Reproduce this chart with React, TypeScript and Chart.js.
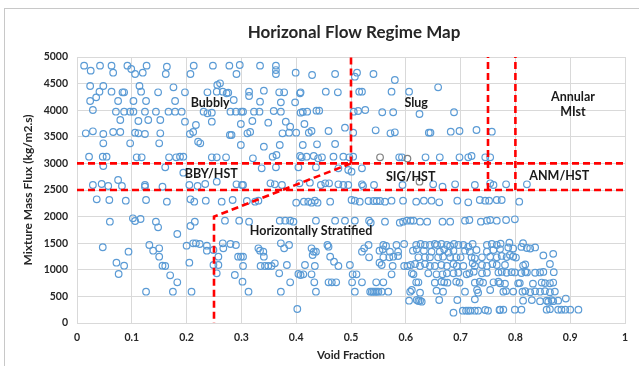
import { useEffect, useRef } from 'react';
import { Chart, registerables } from 'chart.js';

Chart.register(...registerables);

type P = [number, number];

const chartTitle = 'Horizonal Flow Regime Map';
const xAxisTitle = 'Void Fraction';
const yAxisTitle = 'Mixture Mass Flux (kg/m2.s)';
const xTickLabels = ['0', '0.1', '0.2', '0.3', '0.4', '0.5', '0.6', '0.7', '0.8', '0.9', '1'];
const yTickLabels = ['0', '500', '1000', '1500', '2000', '2500', '3000', '3500', '4000', '4500', '5000'];

const regimeNames = ['Bubbly', 'Slug', 'Annular', 'MIst', 'BBY/HST', 'SIG/HST', 'ANM/HST', 'Horizontally Stratified'];
const regimeAnchorX = [0.243, 0.619, 0.905, 0.905, 0.245, 0.609, 0.88, 0.427];
const regimeAnchorY = [4135, 4135, 4250, 3970, 2800, 2744, 2763, 1729];

const boundaryH3000: P[] = [[0, 3000], [1, 3000]];
const boundaryH2500: P[] = [[0, 2500], [1, 2500]];
const boundaryV050: P[] = [[0.5, 3000], [0.5, 5000]];
const boundaryV075: P[] = [[0.75, 2500], [0.75, 5000]];
const boundaryV080: P[] = [[0.8, 2500], [0.8, 5000]];
const boundaryStratified: P[] = [[0.5, 3000], [0.25, 2000], [0.25, 0]];

const bubblyPoints: P[] = [
  [0.013,4837],[0.025,4743],[0.042,4837],[0.063,4837],[0.066,4705],[0.092,4837],[0.099,4774],[0.106,4680],[0.120,4705],[0.127,4837],[0.164,4818],[0.162,4680],[0.213,4837],[0.207,4680],[0.248,4837],
  [0.278,4837],[0.297,4850],[0.291,4680],[0.334,4837],[0.363,4837],[0.363,4755],[0.363,4680],[0.399,4705],[0.429,4662],[0.471,4680],
  [0.024,4455],[0.048,4455],[0.041,4348],[0.063,4348],[0.083,4336],[0.086,4336],[0.114,4455],[0.117,4348],[0.148,4336],[0.176,4430],[0.197,4336],[0.238,4336],[0.035,4242],[0.024,4173],[0.075,4173],[0.103,4173],[0.126,4173],[0.179,4173],
  [0.261,4506],[0.256,4474],[0.255,4348],[0.266,4348],[0.273,4318],[0.276,4330],[0.286,4192],[0.314,4348],[0.314,4267],[0.341,4367],[0.334,4160],[0.369,4336],[0.378,4336],[0.372,4148],[0.398,4148],[0.408,4336],[0.407,4318],[0.454,4348],[0.476,4336],
  [0.029,4004],[0.071,3972],[0.086,3972],[0.097,3972],[0.103,3972],[0.124,3972],[0.144,3972],[0.167,3972],[0.179,3972],[0.191,3972],[0.231,3972],[0.238,3942],[0.246,3953],
  [0.280,3972],[0.290,3972],[0.300,3972],[0.303,3972],[0.323,3972],[0.333,3972],[0.359,3985],[0.372,3972],[0.408,3953],[0.412,3966],[0.420,3972],[0.437,3991],[0.442,3991],
  [0.079,3816],[0.112,3797],[0.130,3816],[0.152,3816],[0.197,3784],[0.217,3722],[0.246,3784],
  [0.299,3741],[0.320,3797],[0.349,3765],[0.381,3784],[0.389,3690],[0.415,3741],[0.459,3609],[0.489,3671],
  [0.016,3566],[0.029,3603],[0.048,3553],[0.066,3590],[0.079,3590],[0.106,3577],[0.112,3566],[0.124,3553],[0.152,3566],[0.206,3553],[0.212,3590],
  [0.279,3534],[0.282,3534],[0.311,3566],[0.316,3590],[0.375,3566],[0.387,3577],[0.400,3577],[0.423,3577],[0.428,3609],
  [0.048,3378],[0.097,3378],[0.150,3378],[0.221,3408],[0.225,3378],
  [0.299,3346],[0.341,3314],[0.370,3346],[0.412,3346],[0.438,3359],[0.471,3365],
  [0.022,3126],[0.047,3126],[0.054,3126],[0.109,3115],[0.118,3115],[0.168,3115],[0.181,3115],[0.188,3126],[0.194,3126],[0.246,3115],[0.255,3115],[0.272,3115],[0.321,3096],[0.357,3126],[0.364,3158],[0.407,3139],[0.410,3115],[0.419,3126],[0.432,3139],[0.440,3096],[0.447,3115],[0.468,3126],[0.486,3126],[0.497,3115],
];

const slugPoints: P[] = [
  [0.504,3577],[0.504,3126],
  [0.511,4705],[0.507,4630],[0.541,4680],[0.580,4568],[0.515,4348],[0.520,4348],[0.574,4348],[0.606,4348],[0.659,4430],
  [0.505,3972],[0.513,3985],[0.526,4004],[0.557,3961],[0.577,3961],[0.625,3929],[0.688,3961],
  [0.545,3622],[0.572,3566],[0.580,3585],[0.642,3577],[0.645,3577],[0.682,3596],[0.698,3609],[0.729,3628],[0.757,3596],
  [0.588,3115],[0.593,3115],[0.636,3115],[0.662,3115],[0.698,3115],[0.714,3115],[0.720,3139],[0.745,3115],[0.754,3115],
];

const grayPoints: P[] = [[0.553,3115],[0.603,3090],[0.625,2656]];

const transitionPoints: P[] = [
  [0.048,2951],[0.161,2927],[0.194,2825],[0.337,2908],[0.363,2927],[0.404,2927],[0.436,2927],[0.477,2908],[0.495,2876],[0.520,2908],[0.501,2844],
  [0.029,2594],[0.045,2613],[0.057,2575],[0.075,2688],[0.082,2575],[0.124,2594],[0.124,2562],[0.156,2562],[0.205,2594],[0.220,2575],[0.234,2613],[0.255,2656],
  [0.291,2607],[0.301,2594],[0.303,2594],[0.353,2626],[0.361,2607],[0.374,2594],[0.406,2626],[0.425,2637],[0.445,2594],[0.453,2626],[0.460,2626],[0.477,2607],[0.486,2594],[0.495,2594],
  [0.520,2607],[0.522,2575],[0.542,2594],[0.594,2594],[0.650,2607],[0.667,2562],[0.690,2607],[0.726,2594],[0.754,2626],[0.760,2594],[0.783,2607],[0.821,2607],
];

const stratifiedUpperPoints: P[] = [
  [0.036,2325],[0.059,2312],[0.089,2299],[0.126,2312],[0.164,2280],[0.207,2325],[0.214,2280],[0.235,2299],
  [0.264,2280],[0.284,2312],[0.310,2293],[0.325,2280],[0.331,2299],[0.400,2261],[0.414,2280],[0.422,2280],[0.428,2261],[0.434,2299],[0.439,2261],[0.462,2280],[0.501,2312],[0.507,2299],
  [0.516,2280],[0.532,2293],[0.541,2293],[0.547,2293],[0.553,2293],[0.562,2280],[0.574,2299],[0.595,2299],[0.619,2280],[0.633,2299],[0.647,2299],[0.661,2269],[0.694,2299],[0.714,2269],[0.735,2312],[0.745,2299],[0.752,2299],[0.766,2312],[0.775,2312],[0.807,2280],
  [0.060,1904],[0.102,1968],[0.106,1917],[0.116,1955],[0.144,1904],[0.148,1799],[0.183,1673],[0.207,1823],[0.215,1904],
  [0.270,1923],[0.296,1923],[0.314,1904],[0.370,1923],[0.380,1923],[0.389,1923],[0.395,1904],[0.436,1923],[0.471,1923],[0.489,1923],
  [0.507,1923],[0.533,1923],[0.536,1885],[0.562,1904],[0.589,1885],[0.595,1904],[0.602,1923],[0.609,1923],[0.614,1923],[0.626,1904],[0.639,1904],[0.667,1904],[0.681,1904],[0.708,1923],[0.716,1936],[0.737,1904],[0.748,1923],[0.754,1936],[0.766,1923],[0.783,1936],[0.799,1949],
];

const stratifiedLowerPoints: P[] = [
  [0.047,1424],[0.094,1340],[0.132,1466],[0.139,1359],[0.150,1404],[0.150,1246],[0.200,1453],[0.212,1498],[0.217,1498],[0.224,1485],[0.237,1453],[0.237,1359],[0.249,1372],[0.072,1133],[0.086,1077],[0.076,921],[0.156,1077],[0.161,1071],[0.205,1133],[0.249,1090],[0.170,897],[0.183,765],[0.255,934],[0.126,588],[0.175,588],[0.209,588],
  [0.266,1498],[0.267,1404],[0.280,1485],[0.290,1466],[0.258,1246],[0.294,1246],[0.299,1246],[0.303,1246],[0.331,1404],[0.334,1359],[0.340,1340],[0.341,1246],[0.372,1498],[0.378,1404],[0.387,1466],[0.428,1404],[0.432,1340],[0.436,1340],[0.430,1278],[0.457,1466],[0.459,1434],[0.462,1246],[0.469,1152],[0.477,1071],
  [0.258,1090],[0.303,1071],[0.335,1071],[0.343,1071],[0.349,1071],[0.355,1071],[0.361,1122],[0.383,1090],[0.416,1090],[0.434,1071],[0.498,1090],
  [0.288,902],[0.369,934],[0.404,921],[0.408,902],[0.413,915],[0.428,915],[0.503,915],[0.510,915],
  [0.302,776],[0.389,765],[0.433,765],[0.459,765],[0.465,765],[0.473,765],[0.502,765],
  [0.313,588],[0.372,588],[0.436,588],[0.507,588],[0.402,263],
];

const clusterPoints: P[] = [
  [0.524,1404],[0.520,1340],[0.532,1466],[0.559,1466],[0.564,1447],[0.583,1466],[0.597,1485],[0.619,1466],[0.627,1485],[0.635,1466],[0.644,1466],[0.653,1485],[0.657,1466],[0.665,1485],[0.675,1466],[0.681,1447],[0.688,1485],[0.696,1466],[0.705,1466],[0.714,1434],[0.722,1485],[0.748,1466],[0.757,1485],[0.766,1466],
  [0.552,1359],[0.558,1385],[0.571,1340],[0.586,1340],[0.613,1359],[0.620,1385],[0.633,1359],[0.647,1340],[0.662,1340],[0.670,1385],[0.678,1321],[0.687,1359],[0.708,1359],[0.717,1340],[0.729,1372],[0.748,1340],[0.760,1372],
  [0.533,1235],[0.559,1235],[0.570,1235],[0.577,1246],[0.586,1259],[0.623,1235],[0.635,1235],[0.644,1235],[0.659,1235],[0.668,1246],[0.681,1235],[0.692,1235],[0.700,1235],[0.720,1235],[0.726,1216],[0.739,1235],[0.754,1246],[0.766,1235],
  [0.552,1133],[0.556,1090],[0.576,1071],[0.597,1071],[0.603,1071],[0.609,1090],[0.617,1109],[0.626,1071],[0.635,1109],[0.644,1071],[0.653,1071],[0.665,1090],[0.675,1071],[0.687,1109],[0.693,1071],[0.705,1071],[0.722,1122],[0.726,1071],[0.739,1090],[0.748,1071],[0.758,1109],[0.766,1090],
  [0.574,915],[0.611,934],[0.614,915],[0.641,934],[0.656,915],[0.667,915],[0.675,934],[0.687,934],[0.696,945],[0.711,915],[0.716,934],[0.724,964],[0.739,934],[0.748,945],
  [0.520,765],[0.546,765],[0.559,765],[0.619,765],[0.623,765],[0.653,758],[0.665,776],[0.670,765],[0.676,758],[0.692,776],[0.698,758],[0.726,758],[0.735,776],[0.741,758],[0.760,765],[0.769,776],
  [0.535,588],[0.538,588],[0.541,588],[0.544,588],[0.547,588],[0.550,588],[0.556,588],[0.568,588],[0.608,588],[0.611,620],[0.626,570],[0.656,607],[0.668,588],[0.708,588],[0.730,620],[0.732,570],[0.754,620],
  [0.606,419],[0.620,432],[0.623,414],[0.626,419],[0.629,400],[0.661,432],[0.694,432],[0.726,445],
  [0.687,194],[0.704,231],[0.710,231],[0.714,231],[0.718,231],[0.726,231],[0.732,231],[0.745,244],[0.750,231],[0.771,244],
];

const farRightPoints: P[] = [
  [0.773,1490],[0.789,1510],[0.814,1500],
  [0.772,1390],[0.787,1420],[0.796,1400],[0.811,1430],[0.821,1410],[0.827,1400],[0.836,1420],
  [0.775,1260],[0.784,1240],[0.790,1280],[0.796,1250],[0.801,1230],[0.851,1270],[0.869,1300],[0.863,1109],
  [0.781,1090],[0.814,1080],[0.818,1100],
  [0.769,950],[0.775,960],[0.784,945],[0.793,955],[0.799,950],[0.811,940],[0.818,960],[0.821,950],[0.836,945],[0.845,950],[0.851,960],[0.870,955],
  [0.772,746],[0.781,740],[0.805,746],[0.808,750],[0.832,740],[0.848,760],[0.854,750],[0.863,746],[0.869,760],
  [0.778,588],[0.783,600],[0.796,590],[0.813,588],[0.818,600],[0.827,580],[0.836,595],[0.845,588],[0.854,600],[0.863,580],[0.872,590],
  [0.814,419],[0.830,430],[0.845,410],[0.857,420],[0.860,400],[0.866,430],[0.869,410],[0.878,420],[0.892,460],
  [0.772,250],[0.778,250],[0.799,250],[0.811,250],[0.857,250],[0.863,260],[0.878,250],[0.884,250],[0.891,250],[0.900,250],[0.915,250],
];

const FONT = 'Lato, "Open Sans", "DejaVu Sans", sans-serif';
const toXY = (pts: P[]) => pts.map(([x, y]) => ({ x, y }));

const decorPlugin = {
  id: 'decor',
  beforeDraw(chart: any) {
    const ctx = chart.ctx;
    ctx.save();
    ctx.fillStyle = '#ffffff';
    ctx.fillRect(0, 0, chart.width, chart.height);
    ctx.strokeStyle = '#c8c8c8';
    ctx.lineWidth = 1;
    ctx.strokeRect(4.5, 8.5, chart.width, chart.height);
    ctx.restore();
  },
  afterDatasetsDraw(chart: any) {
    const ctx = chart.ctx;
    const xs = chart.scales.x;
    const ys = chart.scales.y;
    ctx.save();
    ctx.fillStyle = '#1a1a1a';
    ctx.font = `bold 12.5px ${FONT}`;
    ctx.textAlign = 'center';
    ctx.textBaseline = 'middle';
    regimeNames.forEach((name, i) => {
      ctx.fillText(name, xs.getPixelForValue(regimeAnchorX[i]), ys.getPixelForValue(regimeAnchorY[i]));
    });
    const area = chart.chartArea;
    ctx.fillStyle = '#262626';
    ctx.font = `bold 17px ${FONT}`;
    ctx.fillText(chartTitle, (area.left + area.right) / 2 + 3, 33);
    ctx.restore();
  },
};

export default function App() {
  const canvasRef = useRef<HTMLCanvasElement | null>(null);

  useEffect(() => {
    document.body.style.margin = '0';
    const canvas = canvasRef.current;
    if (!canvas) return;
    const pointStyle = {
      pointRadius: 3.3,
      pointHoverRadius: 3.3,
      pointBorderWidth: 1.2,
      showLine: false,
      backgroundColor: 'rgba(0,0,0,0)',
    };
    const lineStyle = (pts: P[]) => ({
      data: toXY(pts),
      showLine: true,
      borderColor: '#FF0000',
      borderWidth: 2.6,
      borderDash: [7, 4],
      pointRadius: 0,
      fill: false,
      tension: 0,
    });
    const bluePoints = [
      ...bubblyPoints, ...slugPoints, ...transitionPoints, ...stratifiedUpperPoints,
      ...stratifiedLowerPoints, ...clusterPoints, ...farRightPoints,
    ];
    const tickFont = { family: FONT, weight: 'bold' as const, size: 10.5 };
    const xTitleFont = { family: FONT, weight: 'bold' as const, size: 11.5 };
    const yTitleFont = { family: FONT, weight: 'bold' as const, size: 12 };
    const chart = new Chart(canvas, {
      type: 'scatter',
      data: {
        datasets: [
          lineStyle(boundaryH3000),
          lineStyle(boundaryH2500),
          lineStyle(boundaryV050),
          lineStyle(boundaryV075),
          lineStyle(boundaryV080),
          lineStyle(boundaryStratified),
          { ...pointStyle, data: toXY(grayPoints), borderColor: '#7f7f7f', pointBorderColor: '#7f7f7f' },
          { ...pointStyle, data: toXY(bluePoints), borderColor: '#5B9BD5', pointBorderColor: '#5B9BD5' },
        ] as any,
      },
      options: {
        animation: false,
        responsive: false,
        layout: { padding: { left: 0, top: 57, right: 14, bottom: 0 } },
        plugins: { legend: { display: false }, tooltip: { enabled: false }, title: { display: false } },
        scales: {
          x: {
            type: 'linear',
            min: 0,
            max: 1,
            ticks: {
              stepSize: 0.1,
              autoSkip: false,
              maxRotation: 0,
              padding: 8,
              color: '#262626',
              font: tickFont,
              callback: (v: any) => xTickLabels[Math.round(Number(v) * 10)],
            },
            grid: { color: '#d9d9d9', drawTicks: false, lineWidth: 1 },
            border: { color: '#d9d9d9' },
            title: { display: true, text: xAxisTitle, color: '#262626', font: xTitleFont, padding: { top: 0, bottom: 4 } },
            afterFit: (s: any) => { s.height = 43; },
          },
          y: {
            type: 'linear',
            min: 0,
            max: 5000,
            ticks: {
              stepSize: 500,
              autoSkip: false,
              padding: 9,
              color: '#262626',
              font: tickFont,
              callback: (v: any) => yTickLabels[Math.round(Number(v) / 500)],
            },
            grid: { color: '#d9d9d9', drawTicks: false, lineWidth: 1 },
            border: { color: '#d9d9d9' },
            title: { display: true, text: yAxisTitle, color: '#262626', font: yTitleFont, padding: { top: 21, bottom: 0 } },
            afterFit: (s: any) => { s.width = 77; },
          },
        },
      } as any,
      plugins: [decorPlugin],
    });
    return () => chart.destroy();
  }, []);

  return (
    <div style={{ width: 639, height: 366 }}>
      <canvas ref={canvasRef} width={639} height={366} style={{ display: 'block' }} />
    </div>
  );
}
